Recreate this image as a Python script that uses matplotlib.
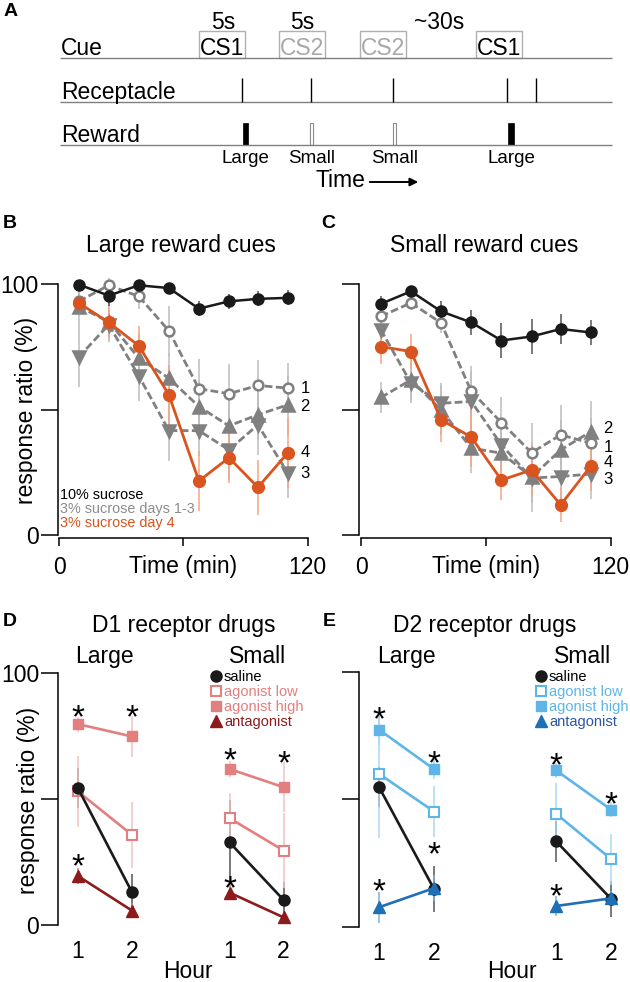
import numpy as np
import matplotlib
matplotlib.use('Agg')
import matplotlib.pyplot as plt
from matplotlib.patches import Rectangle
from matplotlib.lines import Line2D
from matplotlib.transforms import offset_copy

plt.rcParams['font.family'] = ['Liberation Sans', 'DejaVu Sans']
plt.rcParams['axes.linewidth'] = 1.1

W, H = 630, 982

# ---------------- data ----------------
# A: trial schematic, positions along the drawn time line (px)
cue_names = ['CS1', 'CS2', 'CS2', 'CS1']
cue_starts = [199, 279, 360, 476]
cue_text_colors = ['black', '#a8a8a8', '#a8a8a8', 'black']
interval_names = ['5s', '5s', '~30s']
interval_centers = [223, 302, 439]
receptacle_entries = [242, 311, 393, 507, 536]
reward_times = [245.5, 311.5, 394.5, 511]
reward_sizes = ['Large', 'Small', 'Small', 'Large']
row_names = ['Cue', 'Receptacle', 'Reward']

# B, C: response ratio (%) across the session
time_min = [9.5, 24, 38.5, 53, 67.5, 82, 96, 110.5]

b_suc10 = [99.8, 95.4, 99.5, 98.4, 90.2, 93.1, 94.1, 94.5]
b_suc10_err = [2, 4, 2, 2, 3, 3, 3, 3]
b_day1 = [93.1, 99.5, 95.1, 81.4, 58.3, 56.3, 59.6, 58.5]
b_day1_err = [4, 3, 5, 10, 12, 12, 10, 10]
b_day2 = [91.0, 85.0, 70.5, 62.5, 51.2, 43.5, 47.9, 51.9]
b_day2_err = [8, 8, 10, 10, 10, 12, 10, 12]
b_day3 = [70.9, 83.8, 63.4, 41.6, 41.6, 33.9, 43.9, 24.6]
b_day3_err = [12, 6, 10, 12, 10, 12, 12, 10]
b_day4 = [92.5, 84.7, 75.4, 55.9, 21.5, 30.8, 19.0, 32.8]
b_day4_err = [3, 6, 8, 12, 12, 10, 11, 14]
b_num_y = [58.5, 51.4, 24.7, 32.7]  # labels 1, 2, 3, 4

c_suc10 = [92.1, 97.1, 89.1, 84.7, 77.5, 79.1, 82.1, 80.7]
c_suc10_err = [3, 2, 4, 5, 7, 7, 6, 5]
c_day1 = [87.1, 92.5, 84.5, 57.2, 44.8, 32.8, 39.9, 36.6]
c_day1_err = [4, 3, 4, 10, 10, 12, 12, 10]
c_day2 = [54.8, 61.8, 49.8, 34.6, 32.6, 23.1, 33.9, 41.2]
c_day2_err = [6, 8, 10, 10, 10, 14, 12, 12]
c_day3 = [81.8, 60.5, 52.5, 53.2, 35.9, 22.7, 23.3, 24.3]
c_day3_err = [5, 8, 8, 12, 10, 10, 10, 10]
c_day4 = [75.1, 73.1, 45.9, 39.0, 21.9, 25.9, 12.0, 27.5]
c_day4_err = [7, 7, 9, 12, 8, 10, 7, 10]
c_num_y = [35.0, 42.6, 22.3, 29.0]

# D, E: [Large h1, Large h2, Small h1, Small h2]
hour_labels = ['1', '2', '1', '2']
drug_names = ['saline', 'agonist low', 'agonist high', 'antagonist']

d_saline = [54.2, 13.0, 32.7, 9.9]
d_saline_err = [8, 7, 17, 7]
d_low = [52.9, 35.7, 42.3, 29.5]
d_low_err = [14, 13, 10, 15]
d_high = [79.6, 74.7, 61.8, 54.6]
d_high_err = [3, 8, 3, 10]
d_ant = [19.4, 5.7, 12.8, 3.0]
d_ant_err = [3, 3, 3, 2]
d_star_idx = [0, 1, 0, 2, 3, 2]
d_star_y = [85.7, 85.7, 27.0, 69.0, 67.5, 18.3]

e_saline = [54.8, 14.8, 33.5, 10.9]
e_saline_err = [8, 9, 8, 7]
e_low = [60.0, 45.2, 44.3, 26.5]
e_low_err = [25, 10, 12, 10]
e_high = [77.3, 61.8, 61.3, 45.9]
e_high_err = [6, 4, 3, 3]
e_ant = [7.7, 15.2, 8.2, 11.2]
e_ant_err = [6, 5, 4, 3]
e_star_idx = [0, 1, 1, 0, 2, 3, 2]
e_star_y = [85.0, 67.5, 31.8, 17.3, 66.8, 51.4, 15.6]

# ---------------- figure ----------------
fig = plt.figure(figsize=(W / 100, H / 100), dpi=100)


def rect(x0, y0, x1, y1):
    return [x0 / W, 1 - y1 / H, (x1 - x0) / W, (y1 - y0) / H]


base = fig.add_axes([0, 0, 1, 1])
base.set_xlim(0, W)
base.set_ylim(H, 0)
base.axis('off')

BIG = 16.5

# ---- A ----
row_y = [58, 102, 145]
base.hlines(row_y, 60, 612, color='#808080', lw=1.0)
for name, y in zip(row_names, row_y):
    base.text(61, y - 3.5, name, fontsize=BIG, va='baseline')
for name, x0, col in zip(cue_names, cue_starts, cue_text_colors):
    base.add_patch(Rectangle((x0, 31), 46, 27, fill=False, ec='#b0b0b0', lw=1.0))
    base.text(x0 + 23, 55, name, color=col, fontsize=BIG, ha='center', va='baseline')
for name, x in zip(interval_names, interval_centers):
    base.text(x, 28.5, name, fontsize=BIG, ha='center', va='baseline')
base.vlines(receptacle_entries, 78, 102, color='black', lw=1.0)
for t, size in zip(reward_times, reward_sizes):
    if size == 'Large':
        base.add_patch(Rectangle((t - 2.75, 123), 5.5, 22, fc='black', ec='black', lw=0.5))
    else:
        base.add_patch(Rectangle((t - 1.5, 123), 3, 22, fc='white', ec='#8c8c8c', lw=0.8))
    base.text(t, 163, size, fontsize=13.5, ha='center', va='baseline')
base.text(315, 187, 'Time', fontsize=BIG, va='baseline')
base.annotate('', xy=(421, 182), xytext=(367, 182),
              arrowprops=dict(arrowstyle='-|>', color='black', lw=1.4, mutation_scale=12))

# panel letters and titles
for letter, x, y in (('A', 11, 11), ('B', 10, 223), ('C', 328, 223), ('D', 10, 621), ('E', 329, 622)):
    base.text(x, y, letter, fontsize=14, weight='bold', ha='center', va='center')
base.text(181, 252, 'Large reward cues', fontsize=BIG, ha='center', va='baseline')
base.text(484, 252, 'Small reward cues', fontsize=BIG, ha='center', va='baseline')
base.text(184, 632, 'D1 receptor drugs', fontsize=BIG, ha='center', va='baseline')
base.text(485, 632, 'D2 receptor drugs', fontsize=BIG, ha='center', va='baseline')
for x, name in ((104, 'Large'), (258, 'Small'), (406, 'Large'), (583, 'Small')):
    base.text(x, 663, name, fontsize=BIG, ha='center', va='baseline')
base.text(183, 573, 'Time (min)', fontsize=BIG, ha='center', va='baseline')
base.text(486, 573, 'Time (min)', fontsize=BIG, ha='center', va='baseline')
base.text(188, 978, 'Hour', fontsize=BIG, ha='center', va='baseline')
base.text(512, 978, 'Hour', fontsize=BIG, ha='center', va='baseline')
base.text(27, 410, 'response ratio (%)', fontsize=BIG, rotation=90, ha='center', va='center')
base.text(29, 800, 'response ratio (%)', fontsize=BIG, rotation=90, ha='center', va='center')

ORANGE = '#D9541E'
GRAY = '#808080'
DARK = '#1a1a1a'

for i, (txt, col) in enumerate((('10% sucrose', 'black'), ('3% sucrose days 1-3', '#8c8c8c'),
                                ('3% sucrose day 4', ORANGE))):
    base.text(60, 499 + 14 * i, txt, fontsize=10.4, color=col, va='baseline')


# ---- B, C ----
def time_axes(r, xlim, show_labels):
    ax = fig.add_axes(r)
    ax.set_facecolor('none')
    ax.set_xlim(*xlim)
    ax.set_ylim(-1, 105)
    for s in ('top', 'right'):
        ax.spines[s].set_visible(False)
    ax.spines['left'].set_bounds(0, 100)
    ax.spines['bottom'].set_bounds(0, 120)
    ax.set_yticks([0, 50, 100])
    ax.set_yticklabels(['0', '', '100'] if show_labels else [])
    ax.set_xticks([0, 60, 120])
    ax.set_xticklabels(['0', '', '120'])
    ax.tick_params(axis='y', length=12.5, width=1.1, pad=1.5, labelsize=BIG)
    ax.tick_params(axis='x', length=6, width=1.1, pad=7.5, labelsize=BIG)
    return ax


def draw_sessions(ax, s10, s10e, d1, d1e, d2, d2e, d3, d3e, d4, d4e, num_y):
    t = np.array(time_min)
    grays = ((d1, d1e, 'o', 'white', 7), (d2, d2e, '^', GRAY, 8.5), (d3, d3e, 'v', GRAY, 8.5))
    for vals, err, mk, mfc, ms in grays:
        v, e = np.array(vals), np.array(err)
        ax.vlines(t, v - e, v + e, color='#bdbdbd', lw=1.1, zorder=1)
    v, e = np.array(d4), np.array(d4e)
    ax.vlines(t, v - e, v + e, color='#F2A582', lw=1.1, zorder=1)
    v, e = np.array(s10), np.array(s10e)
    ax.vlines(t, v - e, v + e, color='#555555', lw=1.1, zorder=1)
    for vals, err, mk, mfc, ms in grays:
        ax.plot(t, vals, color=GRAY, ls=(0, (2.8, 1.2)), lw=2.0, marker=mk, ms=ms,
                mfc=mfc, mec=GRAY, mew=1.8, zorder=2)
    ax.plot(t, d4, color=ORANGE, lw=2.0, marker='o', ms=8.5, zorder=3)
    ax.plot(t, s10, color=DARK, lw=1.8, marker='o', ms=8, zorder=4)
    for lab, y in zip(['1', '2', '3', '4'], num_y):
        ax.text(t[-1] + 6, y, lab, fontsize=12, va='center')


ax_b = time_axes(rect(58, 271.5, 318, 537.5), (-0.5, 125), True)
draw_sessions(ax_b, b_suc10, b_suc10_err, b_day1, b_day1_err, b_day2, b_day2_err,
              b_day3, b_day3_err, b_day4, b_day4_err, b_num_y)
ax_c = time_axes(rect(359, 271.5, 621, 537.5), (-1, 125), False)
draw_sessions(ax_c, c_suc10, c_suc10_err, c_day1, c_day1_err, c_day2, c_day2_err,
              c_day3, c_day3_err, c_day4, c_day4_err, c_num_y)


# ---- D, E ----
def drug_axes(r, xlim, xpos, show_labels):
    ax = fig.add_axes(r)
    ax.set_facecolor('none')
    ax.set_xlim(*xlim)
    ax.set_ylim(-2, 105)
    for s in ('top', 'right', 'bottom'):
        ax.spines[s].set_visible(False)
    ax.spines['left'].set_bounds(0, 100)
    ax.set_yticks([0, 50, 100])
    ax.set_yticklabels(['0', '', '100'] if show_labels else [])
    ax.set_xticks(xpos)
    ax.set_xticklabels(hour_labels)
    ax.tick_params(axis='y', length=12, width=1.1, pad=1.5, labelsize=BIG)
    ax.tick_params(axis='x', length=0, pad=7, labelsize=BIG)
    return ax


def draw_drugs(ax, xpos, groups, star_idx, star_y, legend_x, text_cols):
    x = np.array(xpos)
    for vals, err, style, ecol, z in groups:
        v, e = np.array(vals), np.array(err)
        ax.vlines(x, v - e, v + e, color=ecol, lw=1.1, zorder=1)
    for vals, err, style, ecol, z in groups:
        for seg in (slice(0, 2), slice(2, 4)):
            ax.plot(x[seg], np.array(vals)[seg], zorder=z, **style)
    fs = 24
    tr = offset_copy(ax.transData, fig=fig, y=-0.57 * fs, units='points')
    for i, y in zip(star_idx, star_y):
        ax.text(x[i], y, '*', fontsize=fs, ha='center', va='baseline', transform=tr)
    # legend
    for k, ((vals, err, style, ecol, z), name, tc) in enumerate(zip(groups, drug_names, text_cols)):
        yy = 676 + 15 * k
        st = {kk: vv for kk, vv in style.items() if kk not in ('lw', 'color')}
        base.add_line(Line2D([legend_x], [yy], ls='none', **st))
        base.text(legend_x + 8, yy + 4.7, name, fontsize=10.5, color=tc, va='baseline')


PINK = '#E27F7F'
DRED = '#8E1B1B'
LBLUE = '#5DB5E8'
DBLUE = '#1E6FB5'


def drug_groups(sal, sal_e, low, low_e, high, high_e, ant, ant_e, acol, aerr, ncol, nerr):
    return [
        (sal, sal_e, dict(color=DARK, lw=1.9, marker='o', ms=8, mfc=DARK, mec=DARK), '#555555', 4),
        (low, low_e, dict(color=acol, lw=1.9, marker='s', ms=7, mfc='white', mec=acol, mew=1.5), aerr, 2),
        (high, high_e, dict(color=acol, lw=1.9, marker='s', ms=7.5, mfc=acol, mec=acol), aerr, 3),
        (ant, ant_e, dict(color=ncol, lw=1.9, marker='^', ms=8.5, mfc=ncol, mec=ncol), nerr, 5),
    ]


d_xpos = [1, 2, 3.81, 4.81]
ax_d = drug_axes(rect(58, 660, 310, 930), (0.63, 5.30), d_xpos, True)
draw_drugs(ax_d, d_xpos,
           drug_groups(d_saline, d_saline_err, d_low, d_low_err, d_high, d_high_err,
                       d_ant, d_ant_err, PINK, '#F3C2C2', DRED, '#C48080'),
           d_star_idx, d_star_y, 216, ['black', PINK, PINK, DRED])

e_xpos = [1, 2, 4.22, 5.22]
ax_e = drug_axes(rect(359, 659, 630, 932), (0.636, 5.56), e_xpos, False)
draw_drugs(ax_e, e_xpos,
           drug_groups(e_saline, e_saline_err, e_low, e_low_err, e_high, e_high_err,
                       e_ant, e_ant_err, LBLUE, '#A9D8F3', DBLUE, '#7FB0DD'),
           e_star_idx, e_star_y, 541, ['black', LBLUE, LBLUE, '#2A55A5'])

fig.savefig('out.png', dpi=100)
